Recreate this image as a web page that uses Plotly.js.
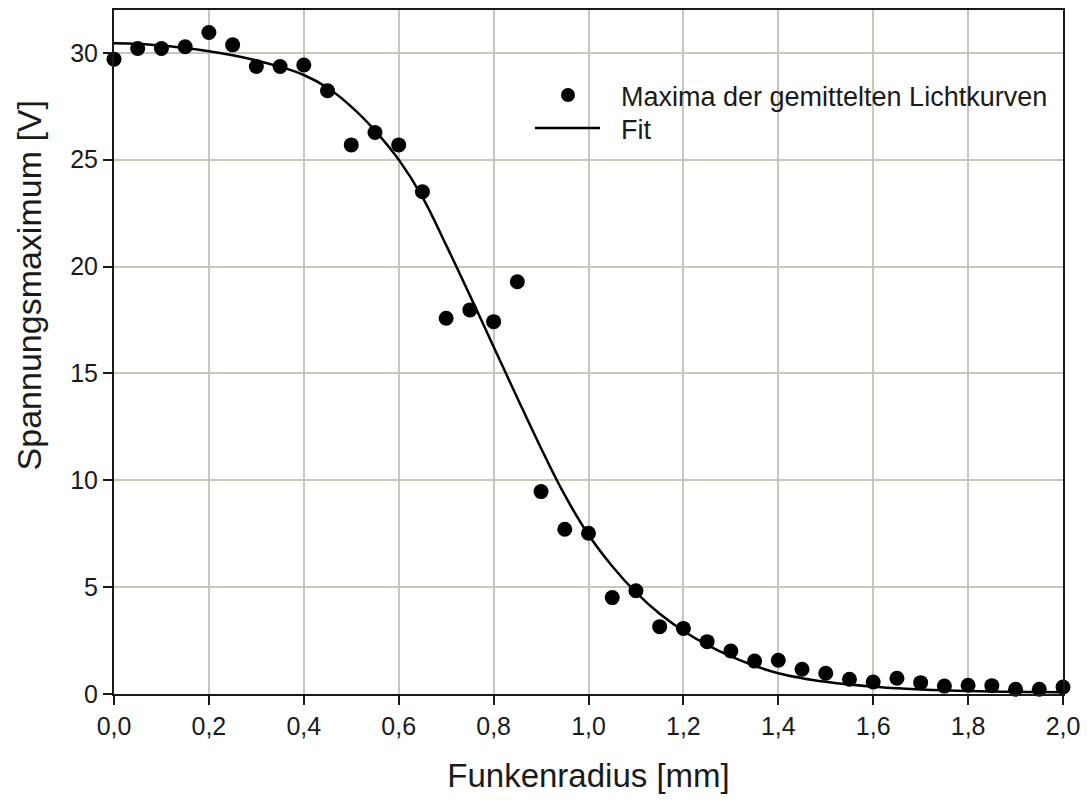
<!DOCTYPE html>
<html>
<head>
<meta charset="utf-8">
<script src="https://cdn.plot.ly/plotly-3.0.1.min.js"></script>
<style>
  html, body { margin: 0; padding: 0; background: #ffffff; }
  #chart { width: 1087px; height: 803px; }
</style>
</head>
<body>
<div id="chart"></div>
<script>
// Spark radius [mm] at which the averaged light curves were evaluated
const radius = [
  0.00, 0.05, 0.10, 0.15, 0.20, 0.25, 0.30, 0.35, 0.40, 0.45,
  0.50, 0.55, 0.60, 0.65, 0.70, 0.75, 0.80, 0.85, 0.90, 0.95,
  1.00, 1.05, 1.10, 1.15, 1.20, 1.25, 1.30, 1.35, 1.40, 1.45,
  1.50, 1.55, 1.60, 1.65, 1.70, 1.75, 1.80, 1.85, 1.90, 1.95, 2.00
];

// Voltage maxima of the averaged light curves [V]
const voltageMax = [
  29.7, 30.2, 30.2, 30.28, 30.95, 30.37, 29.36, 29.36, 29.43, 28.22,
  25.69, 26.27, 25.69, 23.5, 17.58, 17.97, 17.42, 19.29, 9.47, 7.71,
  7.52, 4.51, 4.83, 3.15, 3.07, 2.45, 2.01, 1.54, 1.58, 1.16,
  0.97, 0.69, 0.56, 0.74, 0.53, 0.37, 0.41, 0.39, 0.22, 0.22, 0.33
];

// Fitted curve sampled at the same radii [V]
const fitVoltage = [
  30.45, 30.42, 30.33, 30.22, 30.07, 29.88, 29.64, 29.34, 28.96, 28.36,
  27.48, 26.36, 25.0, 23.25, 21.0, 18.65, 16.25, 13.85, 11.5, 9.3,
  7.45, 5.98, 4.75, 3.75, 2.95, 2.3, 1.76, 1.32, 0.97, 0.74,
  0.57, 0.44, 0.34, 0.27, 0.21, 0.17, 0.14, 0.12, 0.1, 0.09, 0.08
];

const xTicks = [0.0, 0.2, 0.4, 0.6, 0.8, 1.0, 1.2, 1.4, 1.6, 1.8, 2.0];
const yTicks = [0, 5, 10, 15, 20, 25, 30];

const seriesNames = ['Maxima der gemittelten Lichtkurven', 'Fit'];
const xTitle = 'Funkenradius [mm]';
const yTitle = 'Spannungsmaximum [V]';

const FONT = 'Liberation Sans, Arial, Helvetica, sans-serif';
const INK = '#1a1a1a';
const GRID = '#c8c8b8';

const traces = [
  {
    type: 'scatter',
    mode: 'lines',
    name: seriesNames[1],
    x: radius,
    y: fitVoltage,
    line: { color: '#000000', width: 2.5, shape: 'spline', smoothing: 1.1 },
    cliponaxis: false
  },
  {
    type: 'scatter',
    mode: 'markers',
    name: seriesNames[0],
    x: radius,
    y: voltageMax,
    marker: { color: '#000000', size: 15, symbol: 'circle' },
    cliponaxis: false
  }
];

// legend drawn by hand (symbol + label) in paper coordinates
const legendShapes = [
  {
    type: 'circle', xref: 'paper', yref: 'paper',
    xsizemode: 'pixel', ysizemode: 'pixel',
    xanchor: 0.4784, yanchor: 0.8757,
    x0: -7, x1: 7, y0: -7, y1: 7,
    fillcolor: '#000000', line: { width: 0 }
  },
  {
    type: 'line', xref: 'paper', yref: 'paper',
    x0: 0.4436, x1: 0.5121, y0: 0.8275, y1: 0.8275,
    line: { color: '#000000', width: 2.5 }
  }
];

const annotations = [
  {
    xref: 'paper', yref: 'paper', x: 0.5322, y: 0.8728,
    xanchor: 'left', yanchor: 'middle', showarrow: false,
    text: seriesNames[0], font: { family: FONT, size: 27, color: INK }
  },
  {
    xref: 'paper', yref: 'paper', x: 0.5322, y: 0.8246,
    xanchor: 'left', yanchor: 'middle', showarrow: false,
    text: seriesNames[1], font: { family: FONT, size: 27, color: INK }
  },
  {
    xref: 'paper', yref: 'paper', x: -0.0891, y: 0.598,
    xanchor: 'center', yanchor: 'middle', textangle: -90, showarrow: false,
    text: yTitle, font: { family: FONT, size: 34, color: INK }
  }
];

const layout = {
  width: 1087,
  height: 803,
  margin: { l: 114, r: 24, t: 10, b: 109, pad: 0 },
  paper_bgcolor: '#ffffff',
  plot_bgcolor: '#ffffff',
  separators: ',.',
  showlegend: false,
  font: { family: FONT, size: 25, color: INK },
  xaxis: {
    range: [0, 2.0],
    tickvals: xTicks,
    tickformat: '.1f',
    ticks: 'outside', ticklen: 9, tickwidth: 2, tickcolor: INK,
    showline: true, linecolor: INK, linewidth: 2, mirror: true,
    showgrid: true, gridcolor: GRID, gridwidth: 2,
    zeroline: false,
    tickfont: { family: FONT, size: 25, color: INK },
    title: { text: xTitle, font: { family: FONT, size: 33, color: INK }, standoff: 25 },
    automargin: false
  },
  yaxis: {
    range: [0, 32],
    tickvals: yTicks,
    ticks: 'outside', ticklen: 9, tickwidth: 2, tickcolor: INK,
    showline: true, linecolor: INK, linewidth: 2, mirror: true,
    showgrid: true, gridcolor: GRID, gridwidth: 2,
    zeroline: false,
    tickfont: { family: FONT, size: 25, color: INK },
    automargin: false
  },
  shapes: legendShapes,
  annotations: annotations
};

Plotly.newPlot('chart', traces, layout, { displayModeBar: false, staticPlot: true });
</script>
</body>
</html>
